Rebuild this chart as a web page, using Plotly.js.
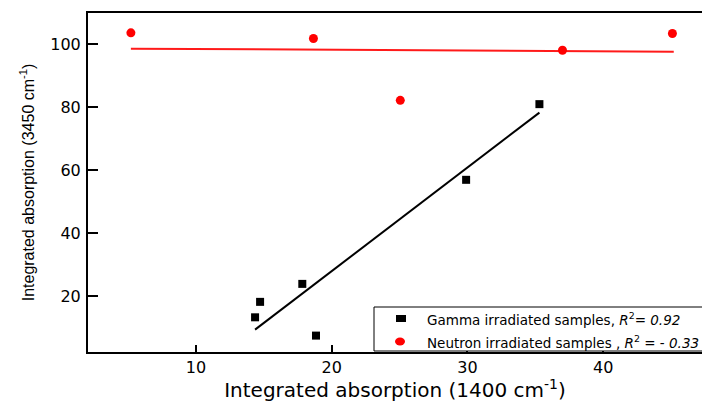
<!DOCTYPE html>
<html>
<head>
<meta charset="utf-8">
<script src="https://cdn.plot.ly/plotly-3.0.1.min.js"></script>
<style>html,body{margin:0;padding:0;background:#fff;}</style>
</head>
<body>
<div id="chart" style="width:702px;height:402px;"></div>
<script>
// Gamma irradiated samples
const gammaX = [14.35, 14.72, 17.83, 18.84, 29.9, 35.3];
const gammaY = [13.3, 18.2, 23.9, 7.5, 56.9, 80.9];
// Neutron irradiated samples
const neutronX = [5.2, 18.65, 25.05, 37.0, 45.1];
const neutronY = [103.5, 101.7, 82.1, 98.0, 103.3];
// Linear fit lines (end points)
const gammaFitX = [14.35, 35.3];
const gammaFitY = [9.4, 78.2];
const neutronFitX = [5.2, 45.2];
const neutronFitY = [98.5, 97.5];
// Axis ticks
const xTicks = [10, 20, 30, 40];
const yTicks = [20, 40, 60, 80, 100];
// Legend labels
const legendLabels = [
  'Gamma irradiated samples, <i>R</i><sup>2</sup>= <i>0.92</i>',
  'Neutron irradiated samples , <i>R</i><sup>2</sup> = - <i>0.33</i>'
];

const traces = [
  {x: gammaFitX, y: gammaFitY, mode: 'lines', line: {color: '#000', width: 2}, showlegend: false, hoverinfo: 'skip'},
  {x: neutronFitX, y: neutronFitY, mode: 'lines', line: {color: '#ff1a1a', width: 2}, showlegend: false, hoverinfo: 'skip'},
  {x: gammaX, y: gammaY, mode: 'markers', name: 'Gamma', marker: {symbol: 'square', size: 8, color: '#000'}, showlegend: false},
  {x: neutronX, y: neutronY, mode: 'markers', name: 'Neutron', marker: {symbol: 'circle', size: 9, color: '#ff0000'}, showlegend: false}
];

const L = 88, W = 614, T = 13, H = 339;
const px = v => (v - L) / W;
const py = v => (T + H - v) / H;

const layout = {
  width: 702, height: 402,
  margin: {l: L, r: 0, t: T, b: 402 - T - H, autoexpand: false},
  paper_bgcolor: '#fff', plot_bgcolor: '#fff',
  showlegend: false,
  font: {family: 'DejaVu Sans, Arial, sans-serif', color: '#000'},
  xaxis: {
    range: [2.04, 47.28], tickvals: xTicks, ticktext: xTicks.map(String),
    ticks: 'inside', ticklen: 7, tickwidth: 2, tickcolor: '#000',
    showline: true, linewidth: 2, linecolor: '#000', mirror: true,
    showgrid: false, zeroline: false, automargin: false,
    tickfont: {size: 16, color: '#000'}, ticklabelstandoff: 0,
    title: {text: 'Integrated absorption (1400 cm<sup>-1</sup>)', font: {size: 20, color: '#000'}, standoff: 12}
  },
  yaxis: {
    range: [2.3, 109.8], tickvals: yTicks, ticktext: yTicks.map(String),
    ticks: 'inside', ticklen: 10, tickwidth: 2, tickcolor: '#000',
    showline: true, linewidth: 2, linecolor: '#000', mirror: false,
    showgrid: false, zeroline: false, automargin: false,
    tickfont: {size: 16, color: '#000'}, ticklabelstandoff: 2,
    title: {text: 'Integrated absorption (3450 cm<sup>-1</sup>)', font: {size: 16, family: 'Liberation Sans, Arial, sans-serif', color: '#000'}, standoff: 12}
  },
  shapes: [
    {type: 'rect', xref: 'paper', yref: 'paper', x0: px(374), x1: 1.05, y0: py(351), y1: py(307), line: {color: '#000', width: 1}, fillcolor: '#ffffff', layer: 'above'},
    {type: 'rect', xref: 'paper', yref: 'paper', xsizemode: 'pixel', ysizemode: 'pixel', xanchor: px(401), yanchor: py(318.5), x0: -5, x1: 5, y0: -3.5, y1: 3.5, line: {width: 0}, fillcolor: '#000'},
    {type: 'circle', xref: 'paper', yref: 'paper', xsizemode: 'pixel', ysizemode: 'pixel', xanchor: px(400), yanchor: py(341.5), x0: -5, x1: 5, y0: -4, y1: 4, line: {width: 0}, fillcolor: '#ff0000'}
  ],
  annotations: [
    {xref: 'paper', yref: 'paper', x: px(425), y: py(318.5), xanchor: 'left', yanchor: 'middle', showarrow: false, text: legendLabels[0], font: {size: 13.5, color: '#000'}},
    {xref: 'paper', yref: 'paper', x: px(425), y: py(341.5), xanchor: 'left', yanchor: 'middle', showarrow: false, text: legendLabels[1], font: {size: 13.5, color: '#000'}}
  ]
};

Plotly.newPlot('chart', traces, layout, {displayModeBar: false, staticPlot: true});
</script>
</body>
</html>
